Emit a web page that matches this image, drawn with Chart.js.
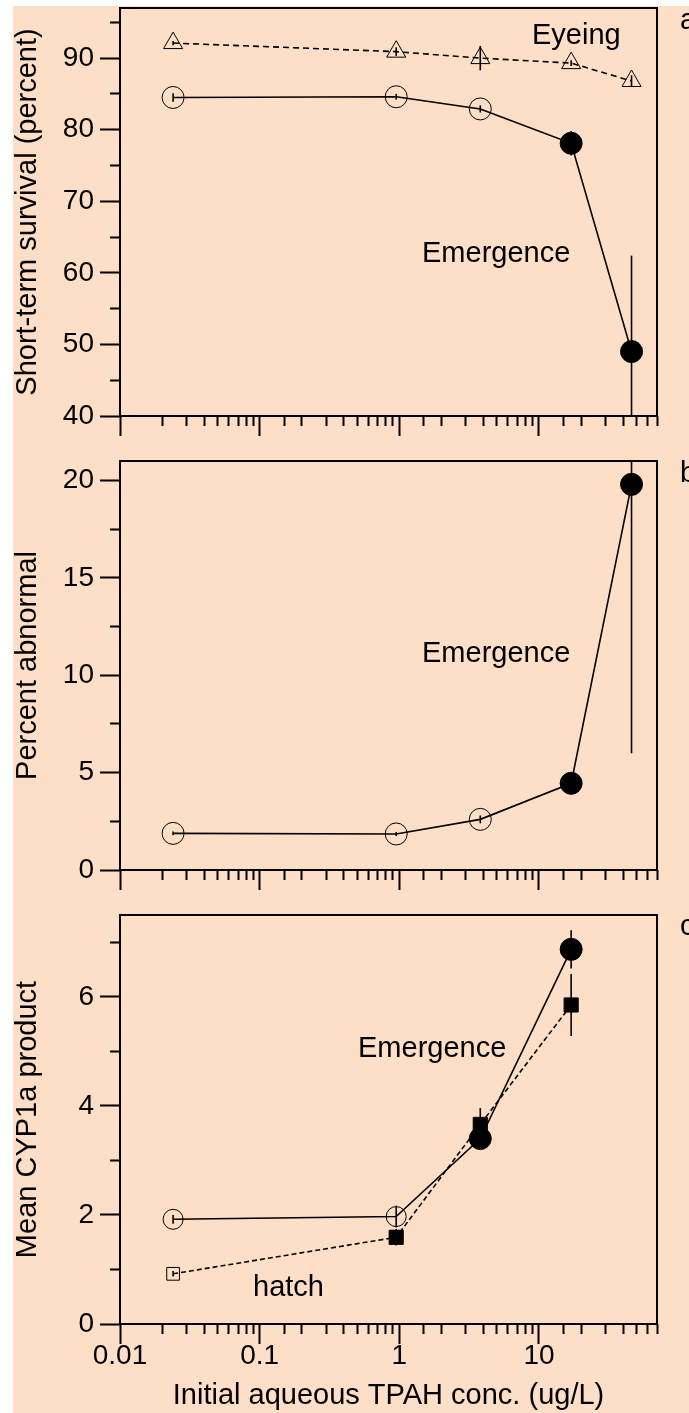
<!DOCTYPE html>
<html>
<head>
<meta charset="utf-8">
<script src="https://cdn.jsdelivr.net/npm/chart.js@4.4.1/dist/chart.umd.min.js"></script>
<style>
  html, body { margin: 0; padding: 0; background: #fff; overflow: hidden; }
  #page { position: relative; width: 689px; height: 1413px; }
  #bg { position: absolute; left: 13px; top: 6px; right: 0; bottom: 0; background: #fddec6; }
  canvas { position: absolute; left: 0; }
  .lbl { position: absolute; font-family: "Liberation Sans", Arial, sans-serif; font-size: 29px; line-height: 29px; color: #000; white-space: nowrap; }
</style>
</head>
<body>
<div id="page">
  <div id="bg"></div>
  <canvas id="chartA" width="689" height="445" style="top:0px"></canvas>
  <canvas id="chartB" width="689" height="450" style="top:445px"></canvas>
  <canvas id="chartC" width="689" height="518" style="top:895px"></canvas>
  <div class="lbl" style="left:532px; top:20px">Eyeing</div>
  <div class="lbl" style="left:422px; top:238px">Emergence</div>
  <div class="lbl" style="left:422px; top:638px">Emergence</div>
  <div class="lbl" style="left:358px; top:1033px">Emergence</div>
  <div class="lbl" style="left:253px; top:1272px">hatch</div>
  <div class="lbl" style="left:680px; top:5px">a</div>
  <div class="lbl" style="left:680px; top:458px">b</div>
  <div class="lbl" style="left:680px; top:911px">c</div>
</div>
<script>
// concentrations (ug/L)
const conc = [0.024, 0.95, 3.8, 17, 46];
const concCyp = [0.024, 0.95, 3.8, 17];

// a: short-term survival (%)
const eyeingSurv = [92.1, 90.9, 90.0, 89.3, 86.8];
const eyeingSurvErr = [0.3, 0.6, 1.7, 0.4, 0.8];
const emergSurv = [84.5, 84.6, 82.9, 78.1, 49.0];
const emergSurvErr = [0.6, 0.4, 0.5, 1.7, 13.4];

// b: percent abnormal
const emergAbn = [1.88, 1.85, 2.6, 4.45, 19.8];
const emergAbnErr = [0.1, 0.1, 0.2, 0.2, 13.8];

// c: mean CYP1a product
const emergCyp = [1.92, 1.97, 3.4, 6.87];
const emergCypErr = [0.08, 0.2, 0.1, 0.35];
const hatchCyp = [0.92, 1.59, 3.66, 5.85];
const hatchCypErr = [0.05, 0.15, 0.3, 0.57];

const xTickLabels = [0.01, 0.1, 1, 10];

// which markers are drawn filled
const emergFilledA = [false, false, false, true, true];
const emergFilledC = [false, false, true, true];
const hatchFilled = [false, true, true, true];

Chart.defaults.font.family = '"Liberation Sans", Arial, sans-serif';
Chart.defaults.color = '#000';

const frame = {
  id: 'frame',
  afterDraw(chart) {
    const { ctx, chartArea: a } = chart;
    ctx.save();
    ctx.strokeStyle = '#000';
    ctx.lineWidth = 2;
    ctx.strokeRect(a.left, a.top, a.right - a.left, a.bottom - a.top);
    ctx.restore();
  }
};

function pts(xs, ys) {
  return xs.map((x, i) => ({ x: x, y: ys[i] }));
}

function errorBars(xs, ys, errs) {
  return xs.map((x, i) => ({
    data: [{ x: x, y: ys[i] - errs[i] }, { x: x, y: ys[i] + errs[i] }],
    showLine: true,
    borderColor: '#000',
    borderWidth: 1.6,
    pointRadius: 0
  }));
}

function isDecade(v) {
  const l = Math.log10(v);
  return Math.abs(l - Math.round(l)) < 1e-6;
}

function makePanel(id, cfg) {
  new Chart(document.getElementById(id), {
    type: 'scatter',
    data: { datasets: cfg.datasets },
    options: {
      responsive: false,
      animation: false,
      devicePixelRatio: 1,
      events: [],
      layout: { autoPadding: false, padding: { top: cfg.padTop, right: 32, left: 0, bottom: 0 } },
      plugins: { legend: { display: false }, tooltip: { enabled: false } },
      scales: {
        x: {
          type: 'logarithmic',
          position: 'bottom',
          min: 0.01,
          max: 70,
          afterFit: s => { s.height = cfg.xHeight; s.paddingLeft = 0; s.paddingRight = 0; },
          border: { display: false },
          grid: {
            drawOnChartArea: false,
            drawTicks: true,
            tickLength: 20,
            tickWidth: 2,
            tickColor: '#000',
            tickBorderDash: c => isDecade(c.tick.value) ? [] : [10, 100]
          },
          ticks: {
            display: cfg.xLabels,
            autoSkip: false,
            maxRotation: 0,
            padding: -5,
            font: { size: 28 },
            callback: v => xTickLabels.some(t => Math.abs(t - v) < 1e-9) ? String(v) : ''
          },
          title: {
            display: cfg.xLabels,
            text: 'Initial aqueous TPAH conc. (ug/L)',
            font: { size: 29 },
            padding: { top: 0, bottom: 0 }
          }
        },
        y: {
          type: 'linear',
          position: 'left',
          min: cfg.yMin,
          max: cfg.yMax,
          afterFit: s => { s.width = 120; s.paddingTop = 0; s.paddingBottom = 0; },
          border: { display: false },
          grid: {
            drawOnChartArea: false,
            drawTicks: true,
            tickLength: 20,
            tickWidth: 2,
            tickColor: '#000',
            tickBorderDash: c => (Math.abs(c.tick.value / cfg.yMajor - Math.round(c.tick.value / cfg.yMajor)) < 1e-6) ? [] : [0, 10, 100]
          },
          ticks: {
            stepSize: cfg.yStep,
            includeBounds: false,
            autoSkip: false,
            padding: 6,
            font: { size: 28 },
            callback: v => (Math.abs(v / cfg.yMajor - Math.round(v / cfg.yMajor)) < 1e-6) ? String(v) : ''
          },
          title: {
            display: true,
            text: cfg.yTitle,
            font: { size: 29 },
            padding: { top: 11, bottom: 0 }
          }
        }
      }
    },
    plugins: [frame]
  });
}

function circleFill(flags) {
  return c => flags[c.dataIndex] ? '#000' : 'rgba(0,0,0,0)';
}

// panel a
makePanel('chartA', {
  padTop: 8, xHeight: 29, xLabels: false,
  yMin: 40, yMax: 97, yStep: 5, yMajor: 10,
  yTitle: 'Short-term survival (percent)',
  datasets: [
    ...errorBars(conc, eyeingSurv, eyeingSurvErr),
    ...errorBars(conc, emergSurv, emergSurvErr),
    {
      data: pts(conc, eyeingSurv), showLine: true,
      borderColor: '#000', borderWidth: 1.6, borderDash: [6, 4],
      pointStyle: 'triangle', pointRadius: 11,
      pointBackgroundColor: 'rgba(0,0,0,0)', pointBorderColor: '#000', pointBorderWidth: 1
    },
    {
      data: pts(conc, emergSurv), showLine: true,
      borderColor: '#000', borderWidth: 1.6,
      pointStyle: 'circle', pointRadius: 11,
      pointBackgroundColor: circleFill(emergFilledA), pointBorderColor: '#000', pointBorderWidth: 1
    }
  ]
});

// panel b
makePanel('chartB', {
  padTop: 16, xHeight: 25, xLabels: false,
  yMin: 0, yMax: 21, yStep: 2.5, yMajor: 5,
  yTitle: 'Percent abnormal',
  datasets: [
    ...errorBars(conc, emergAbn, emergAbnErr),
    {
      data: pts(conc, emergAbn), showLine: true,
      borderColor: '#000', borderWidth: 1.6,
      pointStyle: 'circle', pointRadius: 11,
      pointBackgroundColor: circleFill(emergFilledA), pointBorderColor: '#000', pointBorderWidth: 1
    }
  ]
});

// panel c
makePanel('chartC', {
  padTop: 20, xHeight: 89, xLabels: true,
  yMin: 0, yMax: 7.5, yStep: 1, yMajor: 2,
  yTitle: 'Mean CYP1a product',
  datasets: [
    ...errorBars(concCyp, emergCyp, emergCypErr),
    ...errorBars(concCyp, hatchCyp, hatchCypErr),
    {
      data: pts(concCyp, hatchCyp), showLine: true,
      borderColor: '#000', borderWidth: 1.6, borderDash: [5, 3],
      pointStyle: 'rect',
      pointRadius: c => hatchFilled[c.dataIndex] ? 10 : 9,
      pointBackgroundColor: circleFill(hatchFilled), pointBorderColor: '#000', pointBorderWidth: 1
    },
    {
      data: pts(concCyp, emergCyp), showLine: true,
      borderColor: '#000', borderWidth: 1.6,
      pointStyle: 'circle', pointRadius: c => emergFilledC[c.dataIndex] ? 11 : 10,
      pointBackgroundColor: circleFill(emergFilledC), pointBorderColor: '#000', pointBorderWidth: 1
    }
  ]
});
</script>
</body>
</html>
